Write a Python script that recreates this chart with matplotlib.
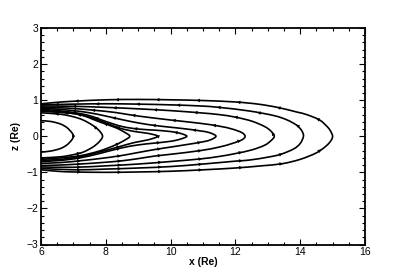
import numpy as np
import matplotlib
matplotlib.use('Agg')
import matplotlib.pyplot as plt
from matplotlib.path import Path
from matplotlib.patches import PathPatch
from matplotlib.ticker import MultipleLocator

# field lines; each runs bottom-left -> tip -> top-left
a_x = [6.0, 6.3, 6.6, 6.8, 6.95, 7.0, 6.95, 6.8, 6.6, 6.3, 6.0]
a_z = [-0.44, -0.41, -0.34, -0.24, -0.1, 0.0, 0.1, 0.24, 0.34, 0.41, 0.43]

b_x = [6.0, 6.6, 7.0, 7.3, 7.6, 7.8, 7.9, 7.8, 7.6, 7.3, 7.0, 6.6, 6.0]
b_z = [-0.60, -0.57, -0.51, -0.44, -0.3, -0.15, 0.0, 0.15, 0.3, 0.45, 0.54, 0.61, 0.65]

c_x = [6.0, 6.6, 7.2, 7.8, 8.3, 8.6, 8.74, 8.6, 8.3, 7.8, 7.2, 6.6, 6.0]
c_z = [-0.64, -0.6, -0.54, -0.41, -0.24, -0.1, 0.0, 0.1, 0.24, 0.40, 0.6, 0.66, 0.69]

d_x = [6.0, 6.6, 7.2, 7.8, 8.45, 8.9, 9.3, 9.6, 9.3, 8.9, 8.45, 8.0, 7.5, 7.0, 6.5, 6.0]
d_z = [-0.67, -0.64, -0.57, -0.44, -0.28, -0.17, -0.1, 0.0, 0.08, 0.13, 0.22, 0.37, 0.53, 0.63, 0.68, 0.72]

e_x = [6.0, 6.6, 7.2, 7.8, 8.45, 9.0, 9.5, 10.0, 10.3, 10.5, 10.3, 10.0, 9.5, 9.0, 8.5, 8.0, 7.5, 7.0, 6.5, 6.0]
e_z = [-0.70, -0.67, -0.6, -0.48, -0.33, -0.24, -0.19, -0.14, -0.08, 0.0, 0.08, 0.13, 0.17, 0.2, 0.27, 0.41, 0.57, 0.66, 0.71, 0.75]

f_x = [6.0, 6.6, 7.2, 7.8, 8.45, 9.0, 9.5, 10.0, 10.5, 10.9, 11.2, 11.4,
       11.2, 10.9, 10.5, 10.0, 9.5, 9.0, 8.5, 8.0, 7.5, 7.0, 6.5, 6.0]
f_z = [-0.75, -0.73, -0.68, -0.62, -0.54, -0.45, -0.37, -0.3, -0.23, -0.17, -0.11, 0.0,
       0.1, 0.15, 0.2, 0.25, 0.3, 0.37, 0.46, 0.56, 0.65, 0.71, 0.75, 0.78]

g_x = [6.0, 6.5, 7.2, 8.0, 8.5, 9.0, 9.5, 10.0, 10.9, 11.5, 11.9, 12.2, 12.3,
       12.2, 11.9, 11.5, 10.9, 10.0, 9.0, 8.5, 8.0, 7.0, 6.5, 6.0]
g_z = [-0.81, -0.8, -0.77, -0.72, -0.68, -0.62, -0.55, -0.5, -0.4, -0.3, -0.2, -0.1, 0.0,
       0.1, 0.2, 0.28, 0.36, 0.45, 0.56, 0.63, 0.69, 0.77, 0.79, 0.81]

h_x = [6.0, 7.0, 8.0, 9.0, 10.0, 10.9, 11.5, 12.0, 12.5, 12.9, 13.1, 13.2,
       13.1, 12.9, 12.5, 12.0, 11.5, 10.9, 10.0, 9.0, 8.0, 7.0, 6.0]
h_z = [-0.85, -0.86, -0.82, -0.77, -0.7, -0.63, -0.56, -0.48, -0.38, -0.25, -0.12, 0.0,
       0.14, 0.27, 0.42, 0.53, 0.6, 0.65, 0.71, 0.76, 0.8, 0.83, 0.84]

i_x = [6.0, 7.0, 8.0, 9.0, 10.0, 11.0, 12.0, 12.43, 13.0, 13.4, 13.8, 14.0, 14.1,
       14.05, 13.9, 13.6, 13.2, 12.43, 11.5, 10.9, 10.0, 9.0, 8.0, 7.0, 6.0]
i_z = [-0.89, -0.93, -0.91, -0.88, -0.84, -0.77, -0.69, -0.66, -0.58, -0.5, -0.35, -0.2, 0.0,
       0.15, 0.3, 0.45, 0.57, 0.70, 0.8, 0.84, 0.87, 0.89, 0.9, 0.89, 0.87]

j_x = [6.0, 6.5, 7.0, 8.0, 9.0, 10.0, 11.0, 12.0, 12.8, 13.45, 14.0, 14.5, 14.8, 14.95, 15.0,
       14.95, 14.85, 14.6, 14.2, 13.9, 13.3, 12.7, 12.0, 11.0, 10.0, 9.0, 8.0, 7.0, 6.5, 6.0]
j_z = [-0.93, -0.97, -0.99, -1.0, -0.99, -0.97, -0.93, -0.88, -0.82, -0.76, -0.64, -0.46, -0.27, -0.12, 0.0,
       0.12, 0.25, 0.45, 0.6, 0.67, 0.8, 0.89, 0.95, 0.99, 1.01, 1.02, 1.01, 0.97, 0.94, 0.9]

lines = [(a_x, a_z), (b_x, b_z), (c_x, c_z), (d_x, d_z), (e_x, e_z),
         (f_x, f_z), (g_x, g_z), (h_x, h_z), (i_x, i_z), (j_x, j_z)]

x_ticks = [6, 8, 10, 12, 14, 16]
z_ticks = [-3, -2, -1, 0, 1, 2, 3]


def smooth_path(x, z):
    # catmull-rom through the read points, drawn as cubic beziers
    p = np.column_stack([x, z]).astype(float)
    p = np.vstack([p[0], p, p[-1]])
    verts = [p[1]]
    codes = [Path.MOVETO]
    for k in range(1, len(p) - 2):
        c1 = p[k] + (p[k + 1] - p[k - 1]) / 6.0
        c2 = p[k + 1] - (p[k + 2] - p[k]) / 6.0
        verts += [c1, c2, p[k + 1]]
        codes += [Path.CURVE4] * 3
    return Path(verts, codes)


def add_arrows(ax, x, z, start=1.2, step=1.25):
    # small heads spaced evenly along each trace
    p = np.column_stack([x, z]).astype(float)
    seg = np.hypot(np.diff(p[:, 0]), np.diff(p[:, 1]))
    s = np.concatenate([[0], np.cumsum(seg)])
    d = start
    while d < s[-1] - 0.05:
        k = np.searchsorted(s, d) - 1
        t = (d - s[k]) / seg[k]
        pt = p[k] + t * (p[k + 1] - p[k])
        dv = (p[k + 1] - p[k]) / seg[k]
        ax.annotate('', xy=pt + dv * 0.03, xytext=pt - dv * 0.03,
                    arrowprops=dict(arrowstyle='-|>', color='black', lw=0,
                                    mutation_scale=6.5, shrinkA=0, shrinkB=0))
        d += step


fig = plt.figure(figsize=(4.07, 2.72), dpi=100)
ax = fig.add_axes([41 / 407, 1 - 244.5 / 272, 324 / 407, 216.5 / 272])

for x, z in lines:
    ax.add_patch(PathPatch(smooth_path(x, z), facecolor='none', edgecolor='black', lw=1.2))
    add_arrows(ax, x, z)

ax.set_xlim(6, 16)
ax.set_ylim(-3, 3)
ax.set_xticks(x_ticks)
ax.set_yticks(z_ticks)
ax.xaxis.set_minor_locator(MultipleLocator(0.5))
ax.yaxis.set_minor_locator(MultipleLocator(0.2))
ax.tick_params(which='both', direction='in', top=True, right=True, width=0.8,
               labelsize=7.5, pad=2)
ax.tick_params(which='major', length=4)
ax.tick_params(which='minor', length=2)
for sp in ax.spines.values():
    sp.set_linewidth(1.3)
for lab in ax.get_xticklabels() + ax.get_yticklabels():
    lab.set_family('Liberation Sans')

ax.set_xlabel('x (Re)', fontsize=7.5, fontweight='bold', family='Liberation Sans', labelpad=0)
ax.set_ylabel('z (Re)', fontsize=7.5, fontweight='bold', family='Liberation Sans', labelpad=4)

fig.savefig('out.png', dpi=100)
